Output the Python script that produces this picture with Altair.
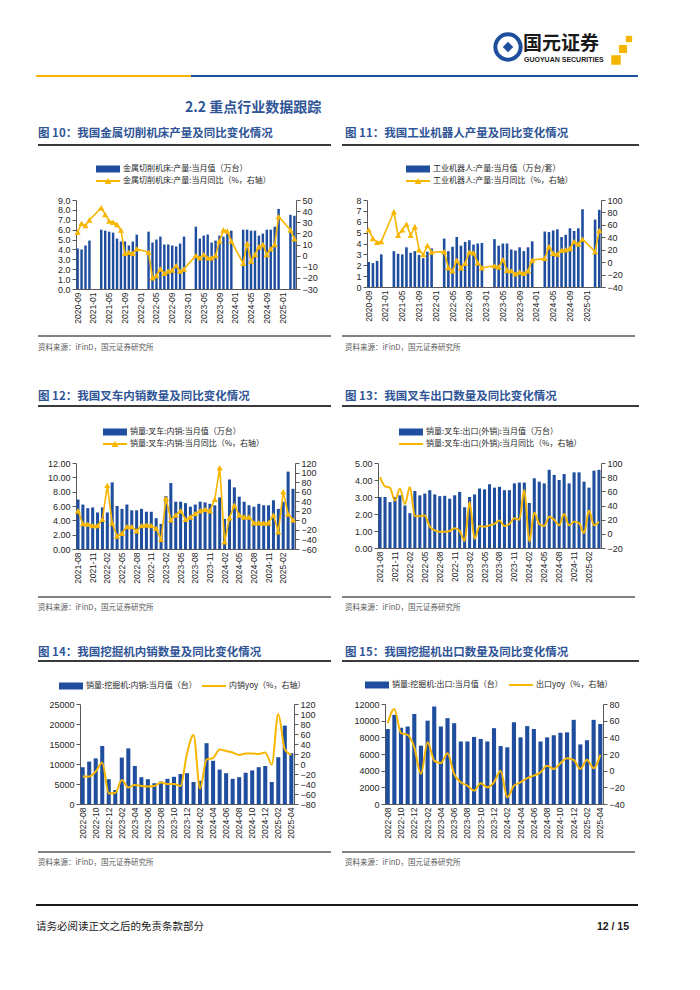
import altair as alt
import pandas as pd

BLUE = "#1f4e9f"
GOLD = "#f7b600"
TBLUE = "#2f5597"
AX = "#595959"
TXT = "#262626"
CJK = "Noto Sans CJK SC"
NUM = "Liberation Sans"


def month_range(y, m, n):
    out = []
    for _ in range(n):
        out.append(f"{y}-{m:02d}")
        m += 1
        if m > 12:
            m = 1
            y += 1
    return out


# ---------------- data ----------------
c10_months = month_range(2020, 9, 56)
c10_bar = [4.1, 4.0, 4.4, 4.9,
           None, None, 6.0, 5.9, 5.8, 5.7, 5.1, 4.8, 4.8, 4.4, 4.8, 5.5,
           None, None, 5.8, 4.7, 5.0, 5.3, 4.5, 4.5, 4.4, 4.3, 4.6, 5.3,
           None, None, 6.3, 5.1, 5.4, 5.5, 4.7, 4.9, 5.4, 5.3, 5.6, 5.9,
           None, None, 6.0, 6.0, 5.9, 5.9, 5.4, 5.6, 6.0, 6.0, 6.3, 8.1,
           None, None, 7.5, 7.4]
c10_yoy = [21, 29, 27, 32,
           None, None, 43, 37, 31, 30, 28, 23, 2, 3, 2, 6,
           None, None, 3, -20, -18, -12, -16, -14, -13, -9, -14, -12,
           None, None, 0, -2, 1, -2, -2, 0, 13, 23, 22, 13,
           None, None, -7, 11, -5, 1, 8, 10, 1, 6, 10, 35,
           None, None, 23, 15]

c11_months = month_range(2020, 9, 56)
c11_bar = [2.3, 2.2, 2.4, 3.0,
           None, None, 3.3, 3.05, 3.0, 3.65, 3.15, 3.3, 2.95, 2.65, 3.25, 3.55,
           None, None, 4.45, 3.3, 3.7, 4.6, 3.8, 4.15, 4.3, 3.9, 4.0, 4.05,
           None, None, 4.4, 3.8, 4.0, 4.0, 3.45, 3.35, 3.65, 3.3, 3.65, 4.2,
           None, None, 5.1, 5.05, 5.2, 5.3, 4.6, 4.8, 5.4, 5.15, 5.4, 7.15,
           None, None, 6.2, 7.1]
c11_yoy = [52, 38, 32, 33,
           None, None, 81, 43, 52, 61, 43, 57, 20, 12, 27, 16,
           None, None, 17, -9, -14, 3, -9, -2, 16, 15, -1, -9,
           None, None, -6, -8, 4, -13, -14, -19, -16, -18, -14, 3,
           None, None, 6, 25, 14, 13, 19, 20, 22, 33, 29, 37,
           None, None, 17, 51]

c12_months = month_range(2021, 8, 45)
c12_bar = [6.9, 6.2, 5.7, 5.8, 5.1, 5.8, 5.1, 9.3, 6.0, 5.6,
           6.2, 5.4, 5.4, 5.6, 5.2, 5.2, 4.3, 3.5, 7.4, 9.2,
           6.6, 6.6, 6.4, 5.9, 6.2, 6.6, 6.5, 6.3, 6.1, 7.2,
           4.2, 9.7, 8.6, 7.3, 6.6, 6.1, 5.9, 6.3, 6.1, 6.1,
           6.8, 5.6, 6.6, 10.8, 8.4]
c12_yoy = [20, -7, -8, -11, -11, 2, 73, -6, -33, -27,
           -13, -13, -22, -11, -10, -11, -17, -40, 46, 1,
           11, 20, 2, 7, 14, 20, 23, 20, 44, 110,
           -45, 5, 32, 11, 7, 7, -5, -5, -6, -5,
           11, -24, 60, 13, 1]

c13_months = month_range(2021, 8, 45)
c13_bar = [3.0, 3.0, 2.7, 3.0, 3.1, 2.5, 2.05, 3.35, 3.1, 3.2,
           3.4, 3.15, 3.05, 3.07, 2.9, 3.1, 3.3, 2.4, 3.0, 3.15,
           3.5, 3.45, 3.75, 3.55, 3.6, 3.4, 3.4, 3.8, 3.85, 3.85,
           2.65, 4.1, 3.9, 3.8, 4.6, 4.3, 4.0, 4.35, 3.8, 4.45,
           4.45, 3.9, 3.55, 4.55, 4.6]
c13_yoy = [80, 67, 65, 47, 64, 42, 66, 25, 25, 26,
           10, 5, 3, 3, 4, 8, 4, -10, 45, -7,
           11, 10, 12, 14, 19, 11, 14, 22, 20, 62,
           -11, 30, 14, 11, 24, 20, 12, 28, 12, 17,
           15, 1, 33, 12, 17]

c14_months = month_range(2022, 8, 33)
c14_bar = [9200, 10600, 11400, 14500, 6200, 3500, 11600, 13900, 9500, 6700,
           6200, 5200, 5600, 6300, 6800, 7500, 7700, 5500, 5800, 15200,
           10800, 8600, 7700, 6300, 6700, 7800, 8400, 9200, 9500, 5500,
           11700, 19600, 12700]
c14_yoy = [-25, -25, -15, 3, -59, -58, -32, -47, -42, -44,
           -45, -44, -37, -40, -40, -44, 21, 58, -49, 9,
           12, 29, 26, 23, 18, 21, 21, 20, 23, -1,
           100, 29, 18]

c15_months = month_range(2022, 8, 33)
c15_bar = [9000, 10700, 9150, 9300, 10800, 7000, 10000, 11700, 9300, 10300,
           9700, 7500, 7500, 8050, 7800, 7500, 9100, 6950, 6800, 9800,
           8000, 9350, 9000, 7500, 8000, 8250, 8550, 8600, 10100, 7150,
           7650, 10100, 9600]
c15_yoy = [57, 74, 45, 43, 28, -4, 34, 12, 9, 21,
           -4, -14, -18, -24, -15, -20, -14, 0, -32, -18,
           -14, -9, -6, -2, 6, 2, 9, 15, 13, 2,
           13, 3, 19]

SOURCE = "资料来源：iFinD，国元证券研究所"

# ---------------- helpers ----------------
DUMMY = pd.DataFrame({"d": [0]})


def txt(x, y, s, size, color=TXT, weight="normal", font=CJK, align="left"):
    return alt.Chart(DUMMY).mark_text(
        align=align, baseline="middle", fontSize=size, font=font,
        color=color, fontWeight=weight
    ).encode(x=alt.value(x), y=alt.value(y), text=alt.value(s))


def hrule(x1, x2, y, color, width, opacity=1.0):
    return alt.Chart(DUMMY).mark_rule(
        color=color, strokeWidth=width, opacity=opacity
    ).encode(x=alt.value(x1), x2=alt.value(x2), y=alt.value(y))


def rect(x1, x2, y1, y2, color):
    return alt.Chart(DUMMY).mark_rect(color=color).encode(
        x=alt.value(x1), x2=alt.value(x2), y=alt.value(y1), y2=alt.value(y2))


def pt(x, y, shape, size, color, filled=True, sw=1):
    return alt.Chart(DUMMY).mark_point(
        shape=shape, size=size, color=color, filled=filled,
        strokeWidth=sw, opacity=1
    ).encode(x=alt.value(x), y=alt.value(y))


def ticks(lo, hi, step):
    out = []
    v = lo
    while v <= hi + 1e-9:
        out.append(round(v, 6))
        v += step
    return out


def spacer():
    return alt.layer(hrule(0, 1, 0, "#ffffff", 1, 0.0)).properties(width=1, height=1)


def panel(months, bars, yoy, W, H, ldom, lstep, lfmt, rdom, rstep, every,
          smooth, title, legend, geo):
    labels = months[::every]
    xenc = alt.X(
        "m:N",
        scale=alt.Scale(domain=months, paddingInner=0.38, paddingOuter=0.1),
        axis=alt.Axis(values=labels, labelAngle=270, labelAlign="right",
                      labelBaseline="middle", labelFont=NUM, labelFontSize=8.5,
                      labelColor=TXT, labelPadding=3, ticks=False,
                      domainColor=AX, domainWidth=1, labelOverlap=False,
                      grid=False),
        title=None)
    bdf = pd.DataFrame({"m": [m for m, v in zip(months, bars) if v is not None],
                        "v": [v for v in bars if v is not None]})
    ldf = pd.DataFrame({"m": [m for m, v in zip(months, yoy) if v is not None],
                        "p": [v for v in yoy if v is not None]})
    bar_ch = alt.Chart(bdf).mark_bar(color=BLUE).encode(
        x=xenc,
        y=alt.Y("v:Q", scale=alt.Scale(domain=ldom, nice=False),
                axis=alt.Axis(values=ticks(ldom[0], ldom[1], lstep), format=lfmt,
                              orient="left", grid=False, domainColor=AX,
                              tickColor=AX, tickSize=4, labelFont=NUM,
                              labelFontSize=9, labelColor=TXT, labelPadding=2),
                title=None))
    if smooth:
        lmark = alt.Chart(ldf).mark_line(color=GOLD, strokeWidth=2,
                                         interpolate="monotone")
    else:
        lmark = alt.Chart(ldf).mark_line(
            color=GOLD, strokeWidth=1.6,
            point=alt.OverlayMarkDef(shape="triangle-up", filled=True,
                                     size=38, color=GOLD))
    line_ch = lmark.encode(
        x=xenc,
        y=alt.Y("p:Q", scale=alt.Scale(domain=rdom, nice=False, zero=False),
                axis=alt.Axis(values=ticks(rdom[0], rdom[1], rstep), format="d",
                              orient="right", grid=False, domainColor=AX,
                              tickColor=AX, tickSize=4, labelFont=NUM,
                              labelFontSize=9, labelColor=TXT, labelPadding=2),
                title=None))

    bx1, bx2, by1, by2 = geo["box"]
    decos = [
        hrule(bx1, bx2, by1, "#ffffff", 1, 0.0),
        hrule(bx1, bx2, by2, "#ffffff", 1, 0.0),
        txt(geo["title"][0], geo["title"][1], title, 11.5, TBLUE, "bold"),
        hrule(geo["trule"][0], geo["trule"][1], geo["trule"][2], "#3a3a3a", 2),
        hrule(geo["brule"][0], geo["brule"][1], geo["brule"][2], "#595959", 1.5),
        txt(geo["src"][0], geo["src"][1], SOURCE, 7.5, "#595959"),
    ]
    for item in legend:
        kind, sx, sy, label = item
        if kind == "bar":
            decos.append(rect(sx, sx + 24, sy - 3.5, sy + 3.5, BLUE))
        else:
            decos.append(hrule(sx, sx + 24, sy, GOLD, 2))
            if not smooth:
                decos.append(pt(sx + 12, sy, "triangle-up", 45, GOLD))
        decos.append(txt(sx + 27, sy, label, 8, TXT))

    return alt.layer(bar_ch, line_ch, *decos).resolve_scale(
        y="independent").properties(width=W, height=H)


# ---------------- panels ----------------
p10 = panel(c10_months, c10_bar, c10_yoy, 220, 89, [0, 9], 1, ".1f",
            [-30, 50], 10, 4, False,
            "图 10：我国金属切削机床产量及同比变化情况",
            [("bar", 20, -31, "金属切削机床:产量:当月值（万台）"),
             ("line", 20, -19, "金属切削机床:产量:当月同比（%，右轴）")],
            dict(box=(-38, 256, -80, 170), title=(-38, -66),
                 trule=(-38, 255, -55), brule=(-38, 255, 136), src=(-38, 148)))

p11 = panel(c11_months, c11_bar, c11_yoy, 234, 87, [0, 8], 1, "d",
            [-40, 100], 20, 4, False,
            "图 11：我国工业机器人产量及同比变化情况",
            [("bar", 39, -31, "工业机器人:产量:当月值（万台/套）"),
             ("line", 39, -19, "工业机器人:产量:当月同比（%，右轴）")],
            dict(box=(-35, 275, -80, 170), title=(-22, -66),
                 trule=(-25, 272, -55), brule=(-25, 268, 136), src=(-22, 148)))

p12 = panel(c12_months, c12_bar, c12_yoy, 219, 86, [0, 12], 2, ".2f",
            [-60, 120], 20, 3, False,
            "图 12：我国叉车内销数量及同比变化情况",
            [("bar", 27, -31, "销量:叉车:内销:当月值（万台）"),
             ("line", 27, -19, "销量:叉车:内销:当月同比（%，右轴）")],
            dict(box=(-38, 256, -93, 167), title=(-38, -66),
                 trule=(-38, 255, -57), brule=(-38, 255, 134), src=(-38, 145)))

p13 = panel(c13_months, c13_bar, c13_yoy, 223, 85, [0, 5], 1, ".2f",
            [-20, 100], 20, 3, True,
            "图 13：我国叉车出口数量及同比变化情况",
            [("bar", 21, -31, "销量:叉车:出口(外销):当月值（万台）"),
             ("line", 21, -19, "销量:叉车:出口(外销):当月同比（%，右轴）")],
            dict(box=(-46, 264, -93, 167), title=(-33, -66),
                 trule=(-36, 261, -57), brule=(-36, 257, 134), src=(-33, 145)))

p14 = panel(c14_months, c14_bar, c14_yoy, 214, 100, [0, 25000], 5000, "d",
            [-80, 120], 20, 2, True,
            "图 14：我国挖掘机内销数量及同比变化情况",
            [("bar", -21, -18, "销量:挖掘机:内销:当月值（台）"),
             ("line", 122, -18, "内销yoy（%，右轴）")],
            dict(box=(-42, 252, -74, 176), title=(-42, -51),
                 trule=(-42, 251, -43), brule=(-42, 251, 148), src=(-42, 159)))

p15 = panel(c15_months, c15_bar, c15_yoy, 218, 100, [0, 12000], 2000, "d",
            [-40, 80], 20, 2, True,
            "图 15：我国挖掘机出口数量及同比变化情况",
            [("bar", -20, -19, "销量:挖掘机:出口:当月值（台）"),
             ("line", 124, -19, "出口yoy（%，右轴）")],
            dict(box=(-53, 257, -74, 176), title=(-40, -51),
                 trule=(-43, 254, -43), brule=(-43, 250, 148), src=(-40, 159)))

# ---------------- header / footer ----------------
header = alt.layer(
    hrule(0, 605, 0, "#ffffff", 1, 0.0),
    hrule(0, 605, 100, "#ffffff", 1, 0.0),
    pt(472, 27, "circle", 640, "#1f4e9f", filled=False, sw=4),
    pt(472, 27, "diamond", 110, "#1f4e9f"),
    txt(487, 24, "国元证券", 19, "#1a1a1a", "bold"),
    txt(488, 39.5, "GUOYUAN SECURITIES", 7, "#1a1a1a", "bold", NUM),
    pt(593, 19, "square", 40, "#f5b400"),
    pt(587, 29, "square", 64, "#f5b400"),
    pt(580, 40, "square", 90, "#f5b400"),
    hrule(0, 155, 56, "#f5b400", 2.2),
    hrule(155, 602, 56, "#1f4e9f", 2.2),
    txt(149, 88, "2.2 重点行业数据跟踪", 14, TBLUE, "bold"),
).properties(width=602, height=100)

footer = alt.layer(
    hrule(0, 605, 0, "#ffffff", 1, 0.0),
    hrule(0, 605, 60, "#ffffff", 1, 0.0),
    hrule(0, 602, 25, "#1a1a1a", 2),
    txt(0, 47, "请务必阅读正文之后的免责条款部分", 10.5, "#1a1a1a"),
    txt(593, 47, "12 / 15", 10.5, "#1a1a1a", "bold", NUM, "right"),
).properties(width=602, height=60)

row1 = alt.hconcat(spacer(), p10, p11, spacing=0)
row2 = alt.hconcat(spacer(), p12, p13, spacing=0)
row3 = alt.hconcat(spacer(), p14, p15, spacing=0)

chart = alt.vconcat(header, row1, row2, row3, footer, spacing=0).properties(
    padding={"left": 26, "top": 12, "right": 5, "bottom": 5},
    background="white",
).configure_view(strokeWidth=0)

chart.save("out.html", embed_options={"renderer": "svg", "actions": False})
